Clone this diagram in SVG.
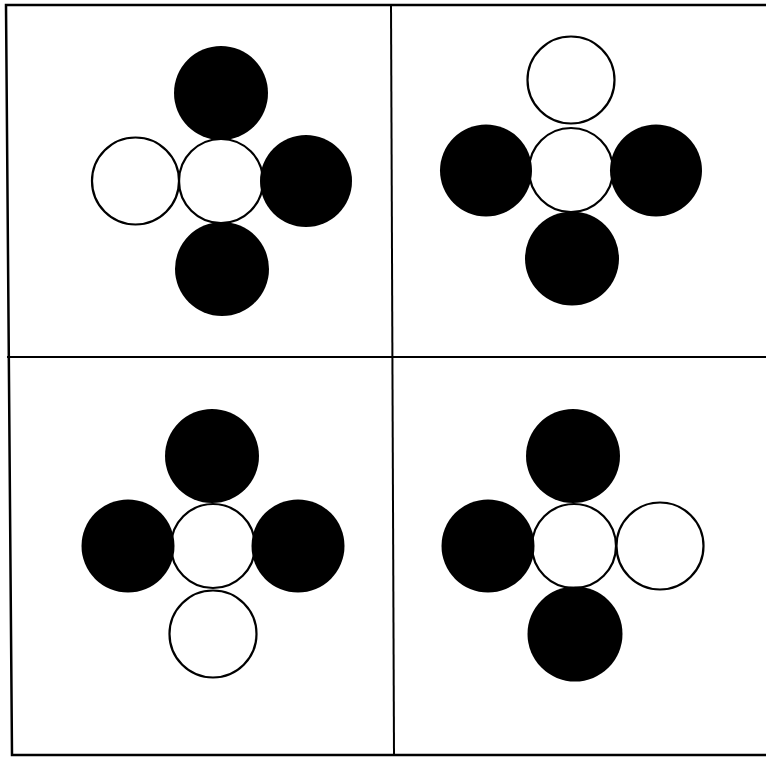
<svg xmlns="http://www.w3.org/2000/svg" width="766" height="757" viewBox="0 0 766 757">
<style>
.frame{fill:none;stroke:#000;stroke-width:2.5;stroke-linecap:square}
.div{fill:none;stroke:#000;stroke-width:2}
.b{fill:#000;stroke:none}
.w{fill:#fff;stroke:#000;stroke-width:2.2}
</style>
<rect width="766" height="757" fill="#fff"/>
<g id="grid">
<path class="frame" d="M766,5 L6,5 L12,755 L766,755"/>
<path class="div" d="M7,357 L766,357"/>
<path class="div" d="M391,5 L394,755"/>
</g>
<g id="panel-top-left">
<circle class="w" cx="221" cy="181" r="42"/>
<circle class="b" cx="221" cy="93" r="47"/>
<circle class="w" cx="135.5" cy="181" r="43.5"/>
<circle class="b" cx="306" cy="181" r="46"/>
<circle class="b" cx="222" cy="269" r="47"/>
</g>
<g id="panel-top-right">
<circle class="w" cx="571" cy="170" r="42"/>
<circle class="w" cx="571" cy="80" r="43.5"/>
<circle class="b" cx="486" cy="170.5" r="46"/>
<circle class="b" cx="656" cy="170.5" r="46"/>
<circle class="b" cx="572" cy="258.5" r="47"/>
</g>
<g id="panel-bottom-left">
<circle class="w" cx="213" cy="546" r="42"/>
<circle class="b" cx="212" cy="456" r="47"/>
<circle class="b" cx="128" cy="546" r="46.5"/>
<circle class="b" cx="298" cy="546" r="46.5"/>
<circle class="w" cx="213" cy="634" r="43.5"/>
</g>
<g id="panel-bottom-right">
<circle class="w" cx="574" cy="546" r="42"/>
<circle class="b" cx="573" cy="456" r="47"/>
<circle class="b" cx="488" cy="546" r="46.5"/>
<circle class="w" cx="660" cy="546" r="43.5"/>
<circle class="b" cx="575" cy="634" r="47.5"/>
</g>
</svg>
